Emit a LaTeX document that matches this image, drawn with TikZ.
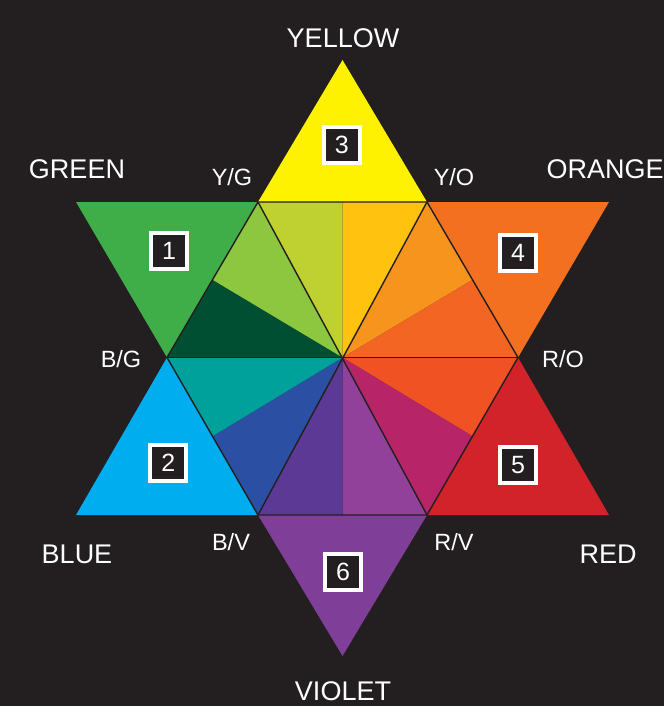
\documentclass[tikz,border=0pt]{standalone}
\usepackage{fontspec}
\usetikzlibrary{calc}
\setmainfont{Liberation Sans}
\definecolor{bgc}{HTML}{231F20}
\definecolor{cY}{HTML}{FFF200}
\definecolor{cG}{HTML}{3FAE49}
\definecolor{cO}{HTML}{F37021}
\definecolor{cB}{HTML}{00AEEF}
\definecolor{cR}{HTML}{D2232A}
\definecolor{cV}{HTML}{7F3F98}
\definecolor{iYGa}{HTML}{BFD130}
\definecolor{iYOa}{HTML}{FFC20E}
\definecolor{iYOb}{HTML}{F7941D}
\definecolor{iROa}{HTML}{F26522}
\definecolor{iROb}{HTML}{F05223}
\definecolor{iRVa}{HTML}{B72467}
\definecolor{iRVb}{HTML}{92419A}
\definecolor{iBVa}{HTML}{5C3995}
\definecolor{iBVb}{HTML}{2B4FA2}
\definecolor{iBGa}{HTML}{00A19A}
\definecolor{iBGb}{HTML}{004F32}
\definecolor{iYGb}{HTML}{8DC63F}
\tikzset{
  biglabel/.style={text=white, anchor=base, inner sep=0pt, font=\fontsize{27}{27}\selectfont},
  smalllabel/.style={text=white, anchor=base, inner sep=0pt, font=\fontsize{23.5}{23.5}\selectfont},
  numbox/.style={fill=bgc, draw=white, line width=4pt, minimum size=36pt, inner sep=0pt, text=white, font=\fontsize{25}{25}\selectfont},
  edge/.style={draw=bgc, line width=1.4pt, line join=round}
}
\begin{document}
\begin{tikzpicture}[x=1pt, y=-1pt]
\fill[bgc] (0,0) rectangle (664,706);
\useasboundingbox (0,0) rectangle (664,706);
% hexagon vertices and centre
\coordinate (C) at (342.5,357.5);
\coordinate (YG) at (258,202);
\coordinate (YO) at (427,202);
\coordinate (RO) at (518,357.5);
\coordinate (RV) at (427,515);
\coordinate (BV) at (258,515);
\coordinate (BG) at (167,357.5);
% midpoints
\coordinate (mT) at ($(YG)!0.5!(YO)$);
\coordinate (mTR) at ($(YO)!0.5!(RO)$);
\coordinate (mBR) at ($(RO)!0.5!(RV)$);
\coordinate (mB) at ($(RV)!0.5!(BV)$);
\coordinate (mBL) at ($(BV)!0.5!(BG)$);
\coordinate (mTL) at ($(BG)!0.5!(YG)$);
% tips
\coordinate (tY) at (342.5,60);
\coordinate (tG) at (76,202);
\coordinate (tO) at (609,202);
\coordinate (tB) at (76,515);
\coordinate (tR) at (609,515);
\coordinate (tV) at (342.5,656);
% outer triangles
\fill[cY] (tY) -- (YO) -- (YG) -- cycle;
\fill[cG] (tG) -- (YG) -- (BG) -- cycle;
\fill[cO] (tO) -- (RO) -- (YO) -- cycle;
\fill[cB] (tB) -- (BG) -- (BV) -- cycle;
\fill[cR] (tR) -- (RV) -- (RO) -- cycle;
\fill[cV] (tV) -- (BV) -- (RV) -- cycle;
% inner sectors
\fill[iYGa] (C) -- (YG) -- (mT) -- cycle;
\fill[iYOa] (C) -- (mT) -- (YO) -- cycle;
\fill[iYOb] (C) -- (YO) -- (mTR) -- cycle;
\fill[iROa] (C) -- (mTR) -- (RO) -- cycle;
\fill[iROb] (C) -- (RO) -- (mBR) -- cycle;
\fill[iRVa] (C) -- (mBR) -- (RV) -- cycle;
\fill[iRVb] (C) -- (RV) -- (mB) -- cycle;
\fill[iBVa] (C) -- (mB) -- (BV) -- cycle;
\fill[iBVb] (C) -- (BV) -- (mBL) -- cycle;
\fill[iBGa] (C) -- (mBL) -- (BG) -- cycle;
\fill[iBGb] (C) -- (BG) -- (mTL) -- cycle;
\fill[iYGb] (C) -- (mTL) -- (YG) -- cycle;
% lines
\draw[edge] (YG) -- (YO) -- (RO) -- (RV) -- (BV) -- (BG) -- cycle;
\draw[edge] (BG) -- (RO);
\draw[edge] (YG) -- (RV);
\draw[edge] (YO) -- (BV);
% number boxes
\node[numbox] (n1) at (169,251) {1};
\node[numbox] (n2) at (168.3,463) {2};
\node[numbox] (n3) at (341.7,145) {3};
\node[numbox] (n4) at (518,253) {4};
\node[numbox] (n5) at (518,465) {5};
\node[numbox] (n6) at (343,572) {6};
% labels
\node[biglabel] (lY) at (343,48) {YELLOW};
\node[biglabel] (lG) at (77,178) {GREEN};
\node[biglabel] (lO) at (605,178) {ORANGE};
\node[biglabel] (lB) at (77,563) {BLUE};
\node[biglabel] (lR) at (608,563) {RED};
\node[biglabel] (lV) at (343,700) {VIOLET};
\node[smalllabel] (lYG) at (232,185) {Y/G};
\node[smalllabel] (lYO) at (454,185) {Y/O};
\node[smalllabel] (lBG) at (121,367.5) {B/G};
\node[smalllabel] (lRO) at (563,367.5) {R/O};
\node[smalllabel] (lBV) at (231,550) {B/V};
\node[smalllabel] (lRV) at (454,550) {R/V};
\end{tikzpicture}
\end{document}
